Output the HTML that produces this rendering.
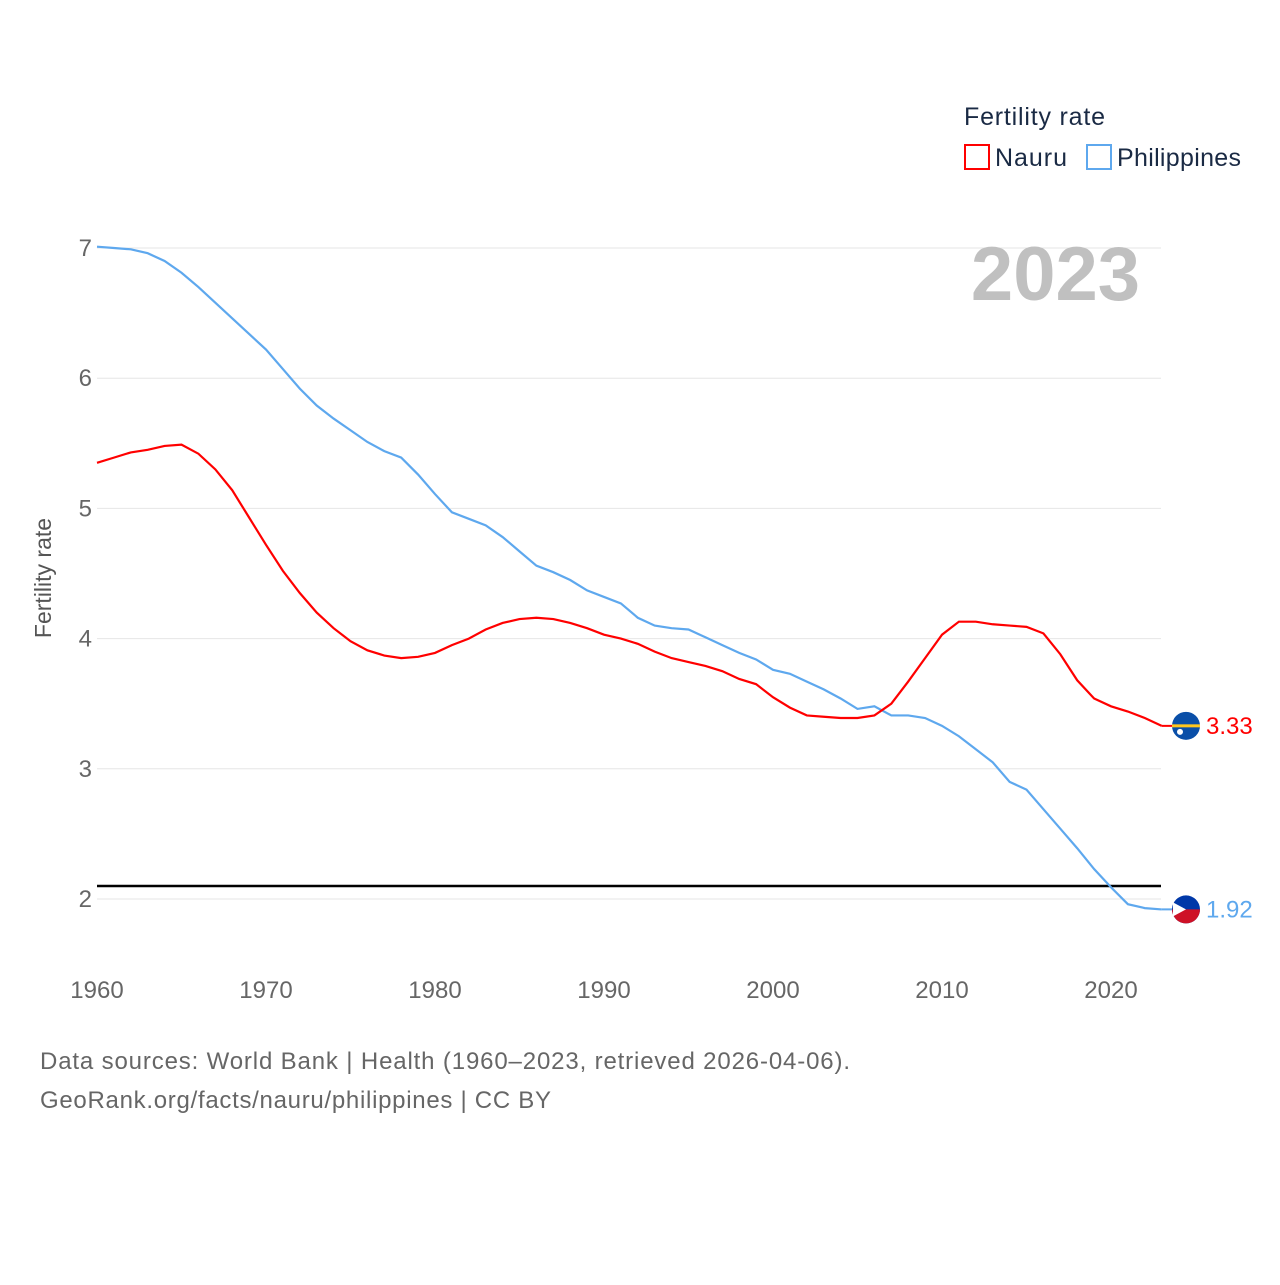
<!DOCTYPE html>
<html><head><meta charset="utf-8"><style>
body{margin:0;background:#fff;font-family:"Liberation Sans",sans-serif}
svg text{font-family:"Liberation Sans",sans-serif}
</style></head><body>
<svg width="1280" height="1280" viewBox="0 0 1280 1280">
<rect width="1280" height="1280" fill="#fff"/>
<g id="grid"></g>
<g id="lines"></g>
<text x="1140" y="300" text-anchor="end" font-size="76" font-weight="bold" fill="#c0c0c0">2023</text>
<text x="964" y="125" font-size="25" fill="#1a2a44" textLength="141" lengthAdjust="spacing">Fertility rate</text>
<g><rect x="965" y="145" width="24" height="24" fill="none" stroke="#ff0000" stroke-width="2"/><text x="995" y="166" font-size="25" fill="#1a2a44" textLength="72" lengthAdjust="spacing">Nauru</text></g>
<g><rect x="1087" y="145" width="24" height="24" fill="none" stroke="#5ea8ee" stroke-width="2"/><text x="1117" y="166" font-size="25" fill="#1a2a44" textLength="124" lengthAdjust="spacing">Philippines</text></g>
<text transform="translate(51,578) rotate(-90)" text-anchor="middle" font-size="23" fill="#555">Fertility rate</text>
<text x="40" y="1069" font-size="24" fill="#666" textLength="810" lengthAdjust="spacing">Data sources: World Bank | Health (1960–2023, retrieved 2026-04-06).</text>
<text x="40" y="1108" font-size="24" fill="#666" textLength="511" lengthAdjust="spacing">GeoRank.org/facts/nauru/philippines | CC BY</text>
</svg>
<script>
const years=[];for(let y=1960;y<=2023;y++)years.push(y);
const philippines=[7.01,7.0,6.99,6.96,6.9,6.81,6.7,6.58,6.46,6.34,6.22,6.07,5.92,5.79,5.69,5.6,5.51,5.44,5.39,5.26,5.11,4.97,4.92,4.87,4.78,4.67,4.56,4.51,4.45,4.37,4.32,4.27,4.16,4.1,4.08,4.07,4.01,3.95,3.89,3.84,3.76,3.73,3.67,3.61,3.54,3.46,3.48,3.41,3.41,3.39,3.33,3.25,3.15,3.05,2.9,2.84,2.69,2.54,2.39,2.23,2.09,1.96,1.93,1.92];
const nauru=[5.35,5.39,5.43,5.45,5.48,5.49,5.42,5.3,5.14,4.93,4.72,4.52,4.35,4.2,4.08,3.98,3.91,3.87,3.85,3.86,3.89,3.95,4.0,4.07,4.12,4.15,4.16,4.15,4.12,4.08,4.03,4.0,3.96,3.9,3.85,3.82,3.79,3.75,3.69,3.65,3.55,3.47,3.41,3.4,3.39,3.39,3.41,3.5,3.67,3.85,4.03,4.13,4.13,4.11,4.1,4.09,4.04,3.88,3.68,3.54,3.48,3.44,3.39,3.33];
const yTicks=[2,3,4,5,6,7];
const xTicks=[1960,1970,1980,1990,2000,2010,2020];
const replacement=2.1;
const NS='http://www.w3.org/2000/svg';
const X=y=>97+(y-1960)*(1111-97)/60;
const Y=v=>899-(v-2)*130.2;
function mk(t,a,p){const e=document.createElementNS(NS,t);for(const k in a)e.setAttribute(k,a[k]);p.appendChild(e);return e;}
const g=document.getElementById('grid'),L=document.getElementById('lines');
yTicks.forEach(v=>{
 const l=mk('line',{x1:97,x2:1161,y1:Y(v),y2:Y(v),stroke:'#e6e6e6','stroke-width':1},g);
 
 
 const t=mk('text',{x:92,y:Y(v)+8,'text-anchor':'end','font-size':24,fill:'#666'},g);t.textContent=v;
 
 
});
xTicks.forEach(v=>{
 const t=mk('text',{x:X(v),y:998,'text-anchor':'middle','font-size':24,fill:'#666'},g);t.textContent=v;
 
 
});
const rl=mk('line',{x1:97,x2:1161,y1:Y(replacement),y2:Y(replacement),stroke:'#000','stroke-width':2.5},L);


function series(d,c,name){
 const p=mk('polyline',{points:d.map((v,i)=>X(years[i])+','+Y(v)).join(' '),fill:'none',stroke:c,'stroke-width':2.2},L);
 
 
 const last=d[d.length-1],lx=X(years[years.length-1]);
 mk('line',{x1:lx,x2:1186,y1:Y(last),y2:Y(last),stroke:c,'stroke-width':2},L);
 const f=mk('circle',{cx:1186,cy:Y(last),r:14,fill:name==='nauru'?'#0a4fa8':'#0038a8'},L);
 
 
 if(name==='nauru'){mk('rect',{x:1172,y:Y(last)-1.5,width:28,height:3,fill:'#ffc61e'},L);mk('circle',{cx:1180,cy:Y(last)+6,r:3,fill:'#fff'},L);}
 else{mk('path',{d:`M1172 ${Y(last)} A14 14 0 0 0 1200 ${Y(last)} Z`,fill:'#ce1126'},L);mk('path',{d:`M1173 ${Y(last)-7} L1186 ${Y(last)} L1173 ${Y(last)+7} Z`,fill:'#fff'},L);}
 const t=mk('text',{x:1206,y:Y(last)+8,'font-size':24,fill:c},L);t.textContent=last.toFixed(2);
 
 
}
series(philippines,'#5ea8ee','philippines');
series(nauru,'#ff0000','nauru');
</script>
</body></html>
